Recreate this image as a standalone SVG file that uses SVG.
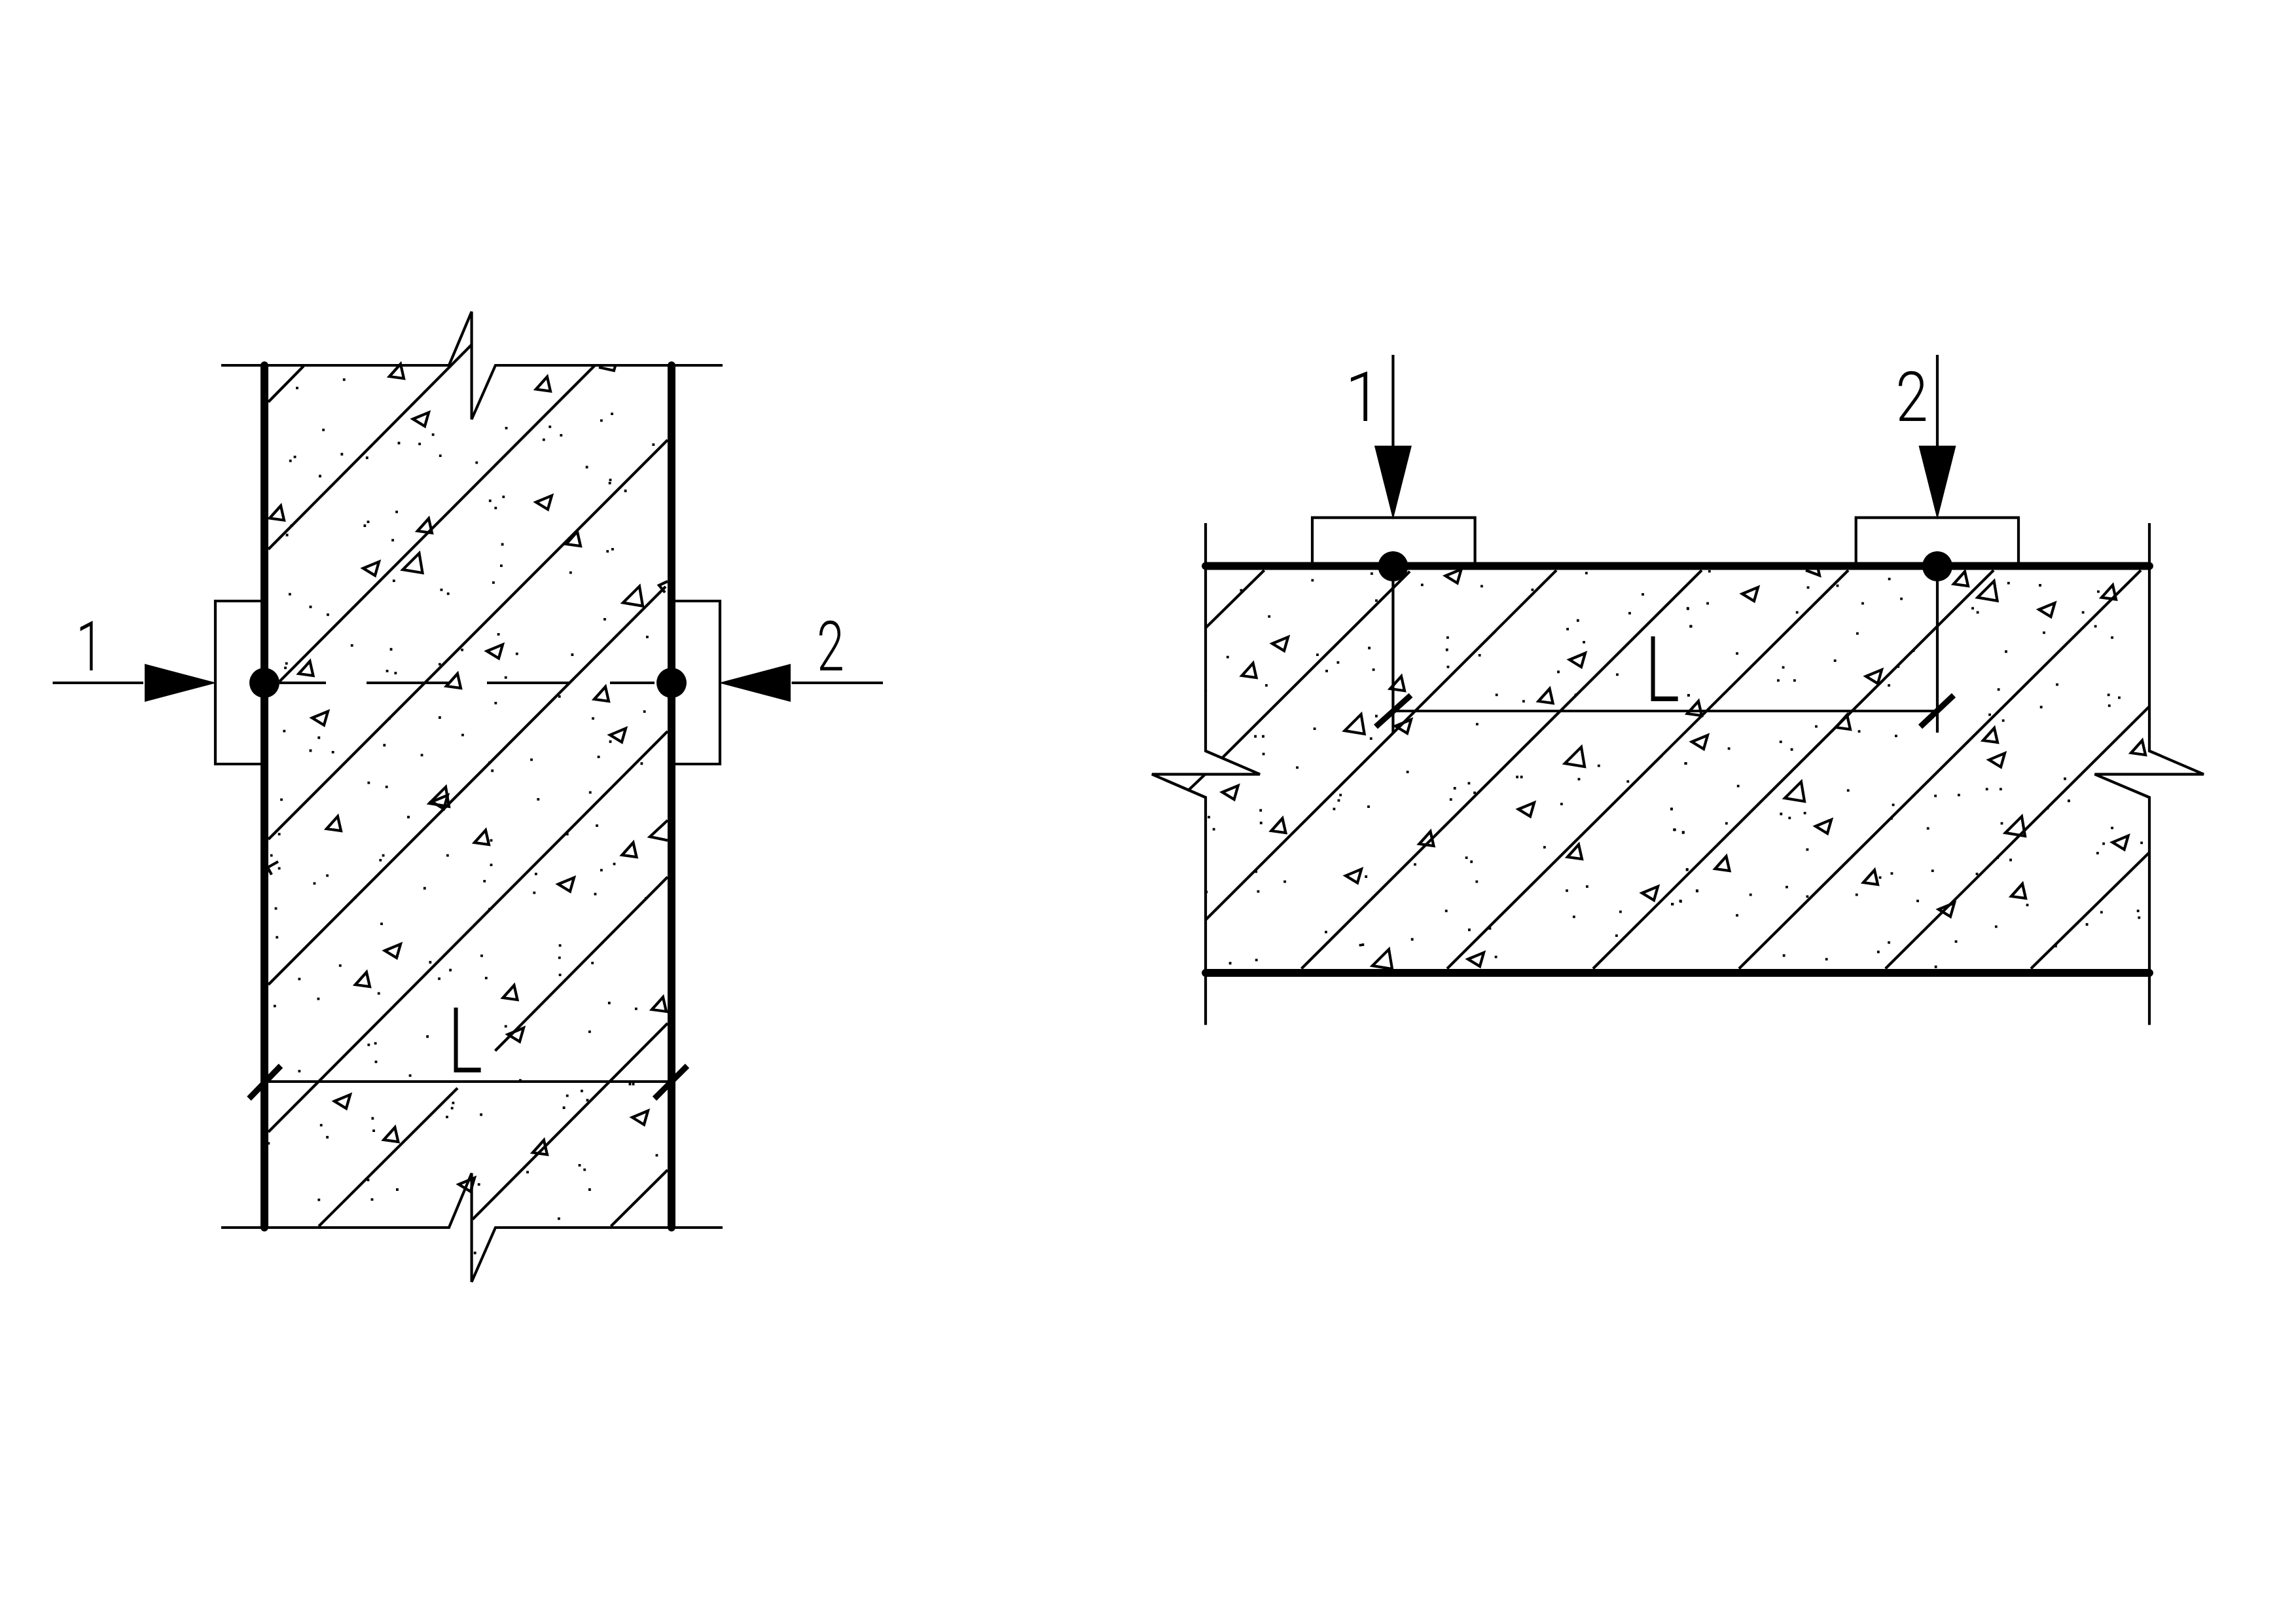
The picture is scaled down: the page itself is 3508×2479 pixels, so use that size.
<svg xmlns="http://www.w3.org/2000/svg" xmlns:xlink="http://www.w3.org/1999/xlink" width="3508" height="2479" viewBox="0 0 3508 2479">
<style>
.t{fill:none;stroke:#000;stroke-width:4.2;stroke-linejoin:miter}
.h{fill:none;stroke:#000;stroke-width:4.2}
.r{fill:none;stroke:#000;stroke-width:12;stroke-linecap:round}
.k{fill:none;stroke:#000;stroke-width:9;stroke-linecap:butt}
.d{fill:none;stroke:#000;stroke-width:3.8;stroke-linecap:square;vector-effect:non-scaling-stroke}
.n{font-family:"Roboto","Liberation Sans",sans-serif;font-weight:300;text-anchor:middle;fill:#000}
.s{font-size:105px}
.l{font-size:139px}
</style>
<defs>
<path id="a" class="t" d="M0 0L17-19L22 3Z"/>
<path id="b" class="t" d="M0 0L24-10L18 11Z"/>
<path id="A" class="t" d="M0 0L25-25L30 5Z"/>
<path id="hL" d="M-110-29L-110 29L0 0Z"/>
<path id="hR" d="M110-29L110 29L0 0Z"/>
<path id="hD" d="M-28.500 0L28.500 0L0 113Z"/>
</defs>
<rect width="3508" height="2479" fill="#fff"/>

<g id="left-wall">
<g id="left-hatch" class="h">
<path d="M464 559L410 614"/>
<path d="M720.600 526.600L410 839"/>
<path d="M909 558L427 1041"/>
<path d="M1020 672L410 1282"/>
<path d="M1017 896L410 1504"/>
<path d="M1020 1117L410 1729"/>
<path d="M1020 1339.500L756.500 1605"/>
<path d="M699 1662L487 1873"/>
<path d="M1020 1563L722 1862.500"/>
<path d="M1020 1787L933.400 1873"/>
</g>
<g id="left-aggregate">
<use xlink:href="#a" x="595" y="575"/><use xlink:href="#a" x="819" y="594.500"/><use xlink:href="#a" x="412" y="791.500"/><use xlink:href="#a" x="638" y="811"/><use xlink:href="#a" x="865" y="831"/><use xlink:href="#A" x="615.500" y="870"/><use xlink:href="#A" x="952" y="920.600"/><use xlink:href="#a" x="456.500" y="1029"/><use xlink:href="#a" x="682" y="1048"/><use xlink:href="#a" x="908" y="1068"/>
<use xlink:href="#b" x="631" y="640"/><use xlink:href="#b" x="819" y="767"/><use xlink:href="#b" x="555" y="868"/><use xlink:href="#b" x="744" y="994.500"/><use xlink:href="#b" x="477" y="1096.500"/><use xlink:href="#b" x="932" y="1122.600"/>
<path class="t" d="M1020 888L1007 894L1016 905M915 561L938 566L940 559"/>
<use xlink:href="#a" x="499" y="1266"/><use xlink:href="#a" x="725" y="1287"/><use xlink:href="#a" x="950.500" y="1306"/><use xlink:href="#A" x="656" y="1227"/><use xlink:href="#b" x="660" y="1224.500"/><use xlink:href="#a" x="543" y="1504"/><use xlink:href="#a" x="768.500" y="1524"/><use xlink:href="#a" x="996" y="1542"/><use xlink:href="#a" x="586.400" y="1741"/><use xlink:href="#a" x="814" y="1760.500"/>
<path class="t" d="M1020 1253L993 1278L1020 1283.600"/>
<path class="t" d="M425 1316L409 1325L415 1336"/>
<use xlink:href="#b" x="853" y="1350.500"/><use xlink:href="#b" x="588" y="1452"/><use xlink:href="#b" x="776" y="1580"/><use xlink:href="#b" x="511" y="1682"/><use xlink:href="#b" x="966" y="1706.700"/><use xlink:href="#b" x="701" y="1809"/>
</g>
<g id="left-dots">
<path class="d" transform="translate(60,460) scale(.8546,.4592)" d="M545 261h.01M461 289h.01M508 428h.01M835 422h.01M913 418h.01M1024 375h.01M1005 397h.01M704 444h.01M933 446h.01M902 461h.01M643 472h.01M680 475h.01M1098 477h.01M541 509h.01M457 518h.01M449 531h.01M586 521h.01M717 514h.01M782 537h.01M979 552h.01M502 582h.01M1021 595h.01M1020 605h.01M1048 631h.01M830 651h.01M806 664h.01M816 688h.01M639 701h.01M588 734h.01M582 747h.01M451 747h.01M443 778h.01M632 795h.01M828 809h.01M1025 825h.01M1016 832h.01M826 880h.01M950 903h.01M634 930h.01M812 936h.01M719 960h.01M731 973h.01M448 975h.01M485 1017h.01M516 1043h.01M1011 1058h.01M821 1108h.01M1087 1117h.01M559 1145h.01M629 1158h.01M756 1160h.01M854 1173h.01M953 1176h.01M442 1205h.01M440 1220h.01M716 1208h.01M622 1230h.01M637 1237h.01M834 1252h.01M930 1315h.01M816 1337h.01M1082 1365h.01M990 1388h.01M626 1388h.01M716 1385h.01M438 1430h.01M757 1443h.01M500 1452h.01M617 1477h.01M1021 1465h.01M485 1495h.01M525 1500h.01M684 1510h.01M1000 1516h.01M880 1525h.01M1077 1538h.01M805 1535h.01M810 1562h.01"/>
<path class="d" transform="translate(60,1180) scale(.8546,.523)" d="M589 30h.01M621 42h.01M433 79h.01M985 58h.01M892 78h.01M429 180h.01M660 130h.01M997 155h.01M944 180h.01M808 198h.01M415 242h.01M615 242h.01M610 256h.01M730 242h.01M808 270h.01M1028 267h.01M1005 285h.01M429 280h.01M888 296h.01M515 301h.01M492 324h.01M796 317h.01M689 338h.01M885 351h.01M994 355h.01M1085 367h.01M565 365h.01M423 397h.01M805 399h.01M612 442h.01M425 481h.01M931 505h.01M791 535h.01M930 541h.01M699 554h.01M989 556h.01M538 564h.01M735 577h.01M931 591h.01M465 603h.01M715 602h.01M799 600h.01M607 645h.01M499 661h.01M421 682h.01M1019 673h.01M1067 690h.01M834 741h.01M984 757h.01M694 771h.01M601 791h.01M589 795h.01M602 845h.01M465 872h.01M663 885h.01M860 899h.01M1062 910h.01M1056 910h.01M970 930h.01M944 944h.01M740 965h.01M980 957h.01M738 980h.01M938 979h.01M729 1006h.01M790 999h.01M596 1010h.01M504 1030h.01M598 1046h.01M515 1065h.01M410 1083h.01M1104 1118h.01M966 1147h.01M975 1160h.01M873 1167h.01M588 1190h.01M786 1203h.01M984 1218h.01M640 1218h.01M595 1247h.01M500 1248h.01M929 1303h.01M779 1403h.01"/>
</g>
<g id="left-outline" class="h">
<path d="M338 558L686 558L720.600 476L720.600 640.500L757 558L1104 558"/>
<path d="M338 1875L686 1875L720.600 1792L720.600 1958L757 1875L1104 1875"/>
<path d="M404 918L329 918L329 1167L404 1167"/>
<path d="M1026 918L1100 918L1100 1167L1026 1167"/>
<path d="M427 1043L498 1043M560 1043L686 1043M744 1043L870 1043M932 1043L1000 1043"/>
<path d="M404 1652L1026 1652"/>
<path d="M80.500 1043L219 1043M1209.500 1043L1349 1043"/>
</g>
<path class="r" d="M404 558L404 1875M1026 558L1026 1875"/>
<path class="k" d="M380.500 1678L429 1628M1000 1678L1050 1628"/>
<g id="left-point-1"><circle cx="404" cy="1043" r="23"/><use xlink:href="#hL" transform="translate(331,1043)"/><text class="n s" transform="translate(137,1024) scale(.72,1)">1</text></g>
<g id="left-point-2"><circle cx="1026" cy="1043" r="23"/><use xlink:href="#hR" transform="translate(1098,1043)"/><text class="n s" transform="translate(1269,1024) scale(.72,1)">2</text></g>
<text class="n l" transform="translate(711,1638) scale(.72,1)">L</text>
</g>

<g id="right-slab">
<g id="right-hatch" class="h">
<path d="M1931.600 871L1842 959"/>
<path d="M2154 872.700L1868 1157M1841 1183L1816 1206.700"/>
<path d="M2378 871L1842 1405"/>
<path d="M2600 871L1988.500 1479.500"/>
<path d="M2824 871L2211 1479.500"/>
<path d="M3046 871L2434 1479.500"/>
<path d="M3271 871L2657 1479.500"/>
<path d="M3284 1079L2880.700 1479.500"/>
<path d="M3284 1302L3103 1479.500"/>
</g>
<g id="right-aggregate">
<use xlink:href="#b" x="1944" y="983"/><use xlink:href="#b" x="2208.600" y="879.500"/><use xlink:href="#b" x="2398" y="1007.700"/><use xlink:href="#b" x="2132" y="1109"/><use xlink:href="#b" x="1867.600" y="1210"/><use xlink:href="#b" x="2320" y="1236"/><use xlink:href="#b" x="2056" y="1337.600"/><use xlink:href="#b" x="2509" y="1364"/><use xlink:href="#b" x="2243" y="1465"/><use xlink:href="#b" x="2585" y="1133"/>
<use xlink:href="#a" x="1897.500" y="1032"/><use xlink:href="#a" x="2124" y="1052"/><use xlink:href="#a" x="2350.600" y="1071"/><use xlink:href="#a" x="2578" y="1090"/><use xlink:href="#A" x="2054.600" y="1116"/><use xlink:href="#A" x="2391" y="1166"/><use xlink:href="#a" x="1942.400" y="1269"/><use xlink:href="#a" x="2168.500" y="1289"/><use xlink:href="#a" x="2395" y="1309"/><use xlink:href="#A" x="2097" y="1475"/>
<use xlink:href="#b" x="2662" y="907"/><use xlink:href="#b" x="2851" y="1033"/><use xlink:href="#b" x="3115.400" y="931"/><use xlink:href="#b" x="3039" y="1160.600"/><use xlink:href="#b" x="2774" y="1262"/><use xlink:href="#b" x="3227.600" y="1286.600"/><use xlink:href="#b" x="2962" y="1389"/>
<path class="t" d="M2759 871L2780 879L2778 870"/>
<use xlink:href="#a" x="2985" y="892"/><use xlink:href="#a" x="3211" y="912.600"/><use xlink:href="#A" x="3021.600" y="912.600"/><use xlink:href="#a" x="2805" y="1111"/><use xlink:href="#a" x="3030" y="1131"/><use xlink:href="#A" x="2727" y="1219"/><use xlink:href="#a" x="2620.500" y="1327"/><use xlink:href="#A" x="3064" y="1272"/><use xlink:href="#a" x="2847" y="1348"/><use xlink:href="#a" x="3073" y="1369"/><use xlink:href="#a" x="3256" y="1150"/>
</g>
<g id="right-dots">
<path class="d" transform="translate(1750,520) scale(.5421,.6888)" d="M638 517h.01M471 532h.01M780 542h.01M948 545h.01M1243 516h.01M270 554h.01M651 577h.01M1091 553h.01M1402 563h.01M1529 595h.01M349 612h.01M1365 605h.01M1190 640h.01M1219 621h.01M1537 634h.01M852 659h.01M1236 669h.01M850 686h.01M631 682h.01M485 697h.01M232 702h.01M942 698h.01M543 714h.01M511 733h.01M643 730h.01M853 724h.01M1164 735h.01M1330 741h.01M341 765h.01M170 777h.01M990 786h.01M1066 800h.01M1213 786h.01M1531 787h.01M651 833h.01M477 861h.01M935 851h.01M636 883h.01M310 878h.01M332 878h.01M333 917h.01M428 947h.01M739 957h.01M1222 973h.01M1278 943h.01M1523 938h.01M1048 968h.01M1060 968h.01M1360 978h.01M872 993h.01M912 982h.01M928 1003h.01M550 1008h.01M545 1020h.01M861 1018h.01M1173 1028h.01M629 1034h.01M532 1039h.01M179 1057h.01M325 1042h.01M326 1070h.01M1483 1039h.01M193 1084h.01M1492 1085h.01M1516 1091h.01M1125 1124h.01M905 1147h.01M919 1156h.01M760 1162h.01M622 1189h.01M312 1178h.01M393 1200h.01M934 1200h.01M1527 1173h.01M318 1222h.01M172 1223h.01M1188 1220h.01M1245 1211h.01M1555 1221h.01M1508 1243h.01M1485 1250h.01M848 1265h.01M1339 1267h.01M1208 1278h.01M971 1304h.01M913 1307h.01M1328 1320h.01M509 1312h.01M752 1328h.01M606 1341h.01M613 1340h.01M313 1374h.01M239 1381h.01M988 1367h.01"/>
<path class="d" transform="translate(2550,520) scale(.5421,.6888)" d="M114 512h.01M475 544h.01M621 529h.01M957 538h.01M1046 543h.01M1210 557h.01M392 548h.01M655 573h.01M109 583h.01M53 594h.01M546 583h.01M361 603h.01M856 594h.01M870 603h.01M1167 603h.01M1202 634h.01M62 634h.01M1057 648h.01M531 650h.01M1249 659h.01M950 690h.01M192 694h.01M468 710h.01M689 688h.01M646 723h.01M322 725h.01M308 754h.01M354 754h.01M620 765h.01M55 787h.01M929 774h.01M1094 763h.01M1239 786h.01M1269 792h.01M1241 810h.01M1049 813h.01M904 830h.01M942 843h.01M415 856h.01M536 867h.01M640 877h.01M315 890h.01M169 905h.01M346 907h.01M47 938h.01M195 988h.01M505 998h.01M896 995h.01M935 995h.01M1116 972h.01M751 1010h.01M817 1008h.01M1127 1021h.01M632 1030h.01M7 1039h.01M1067 1037h.01M316 1050h.01M340 1059h.01M383 1048h.01M627 1060h.01M15 1085h.01M40 1091h.01M162 1071h.01M730 1082h.01M938 1071h.01M1249 1081h.01M1225 1116h.01M1332 1114h.01M390 1129h.01M963 1152h.01M926 1147h.01M1208 1137h.01M51 1174h.01M743 1176h.01M628 1182h.01M595 1191h.01M868 1183h.01M332 1212h.01M79 1220h.01M230 1229h.01M390 1233h.01M529 1229h.01M701 1243h.01M10 1250h.01M33 1244h.01M192 1275h.01M1010 1252h.01M1322 1265h.01M1219 1268h.01M1325 1280h.01M1178 1295h.01M922 1300h.01M620 1335h.01M809 1333h.01M1090 1343h.01M590 1356h.01M324 1364h.01M444 1372h.01M752 1389h.01"/>
</g>
<g id="right-outline" class="h">
<path d="M1842 799L1842 1147L1925 1182.600L1760 1182.600L1842 1218L1842 1565.600"/>
<path d="M3284 799L3284 1147L3367 1182.600L3200.500 1182.600L3284 1218L3284 1565.600"/>
<path d="M2005 864L2005 790.700L2253.600 790.700L2253.600 864"/>
<path d="M2835.700 864L2835.700 790.700L3084 790.700L3084 864"/>
<path d="M2128.400 542L2128.400 681M2960 542L2960 681"/>
<path d="M2128.400 865L2128.400 1119M2960 865L2960 1119"/>
<path d="M2128.400 1086L2960 1086"/>
</g>
<path class="r" d="M1842 864.500L3284 864.500M1842 1486L3284 1486"/>
<path class="k" d="M2102 1110L2155.500 1062M2934 1110L2985 1062"/>
<g id="right-point-1"><circle cx="2128.400" cy="865" r="23"/><use xlink:href="#hD" transform="translate(2128.400,680.700)"/><text class="n s" transform="translate(2083,642.600) scale(.95,1)">1</text></g>
<g id="right-point-2"><circle cx="2960" cy="865" r="23"/><use xlink:href="#hD" transform="translate(2960,680.700)"/><text class="n s" transform="translate(2921,642.600) scale(.85,1)">2</text></g>
<text class="n l" transform="translate(2540,1071) scale(.72,1)">L</text>
</g>
</svg>
